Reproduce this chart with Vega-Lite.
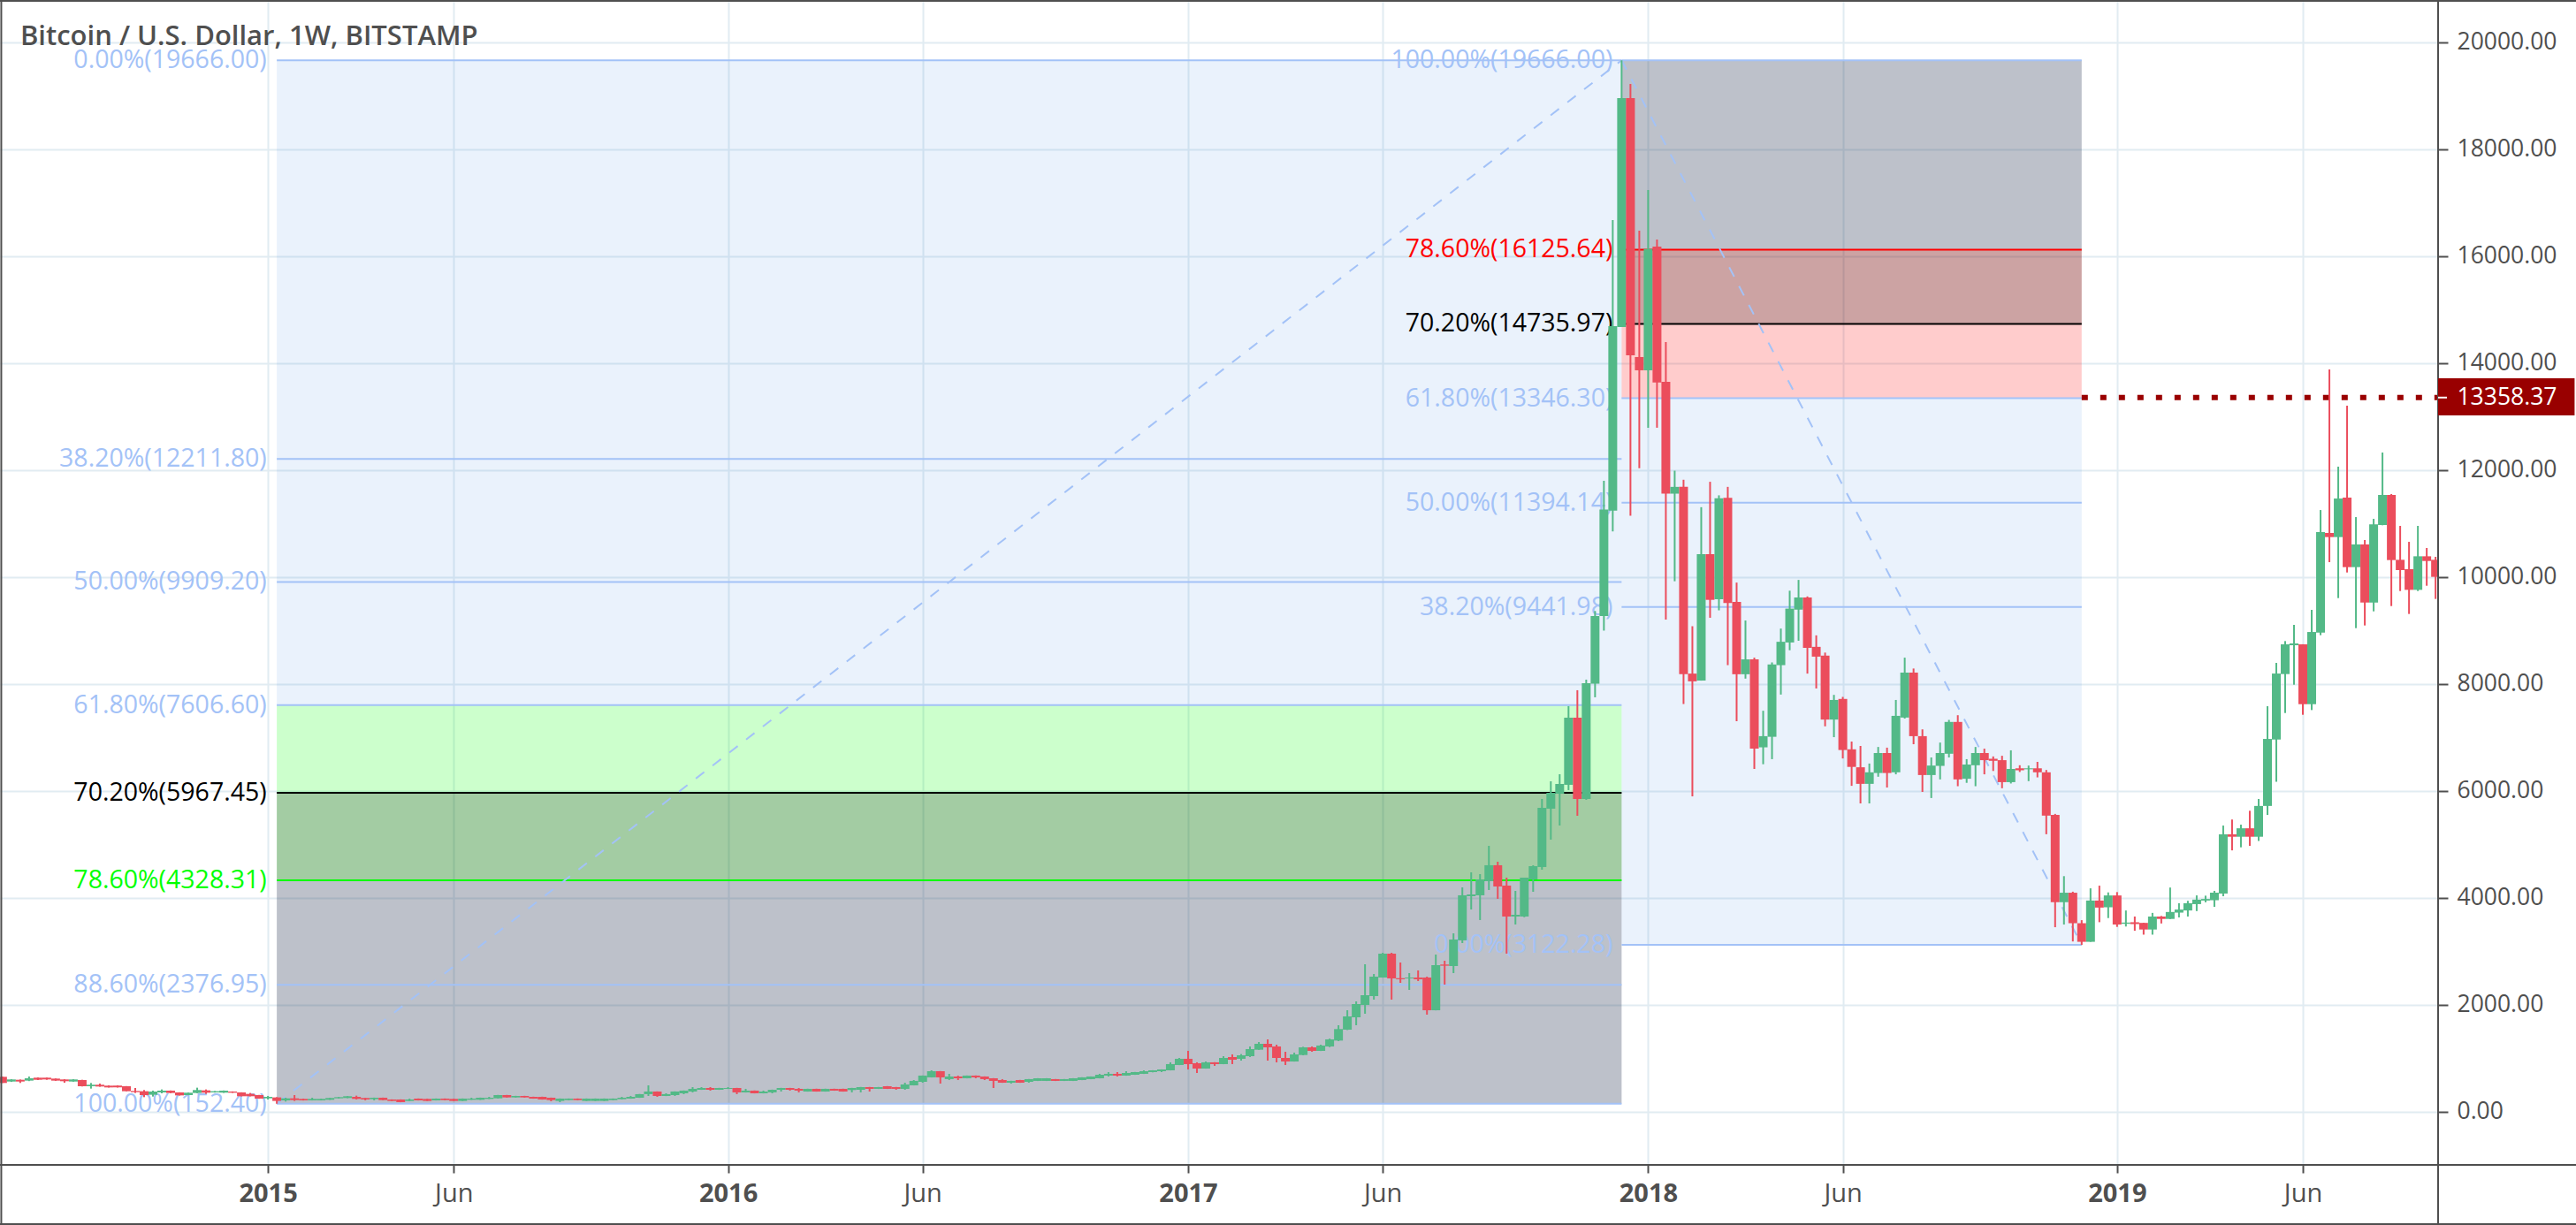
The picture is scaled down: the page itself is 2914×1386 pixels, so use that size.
{"$schema":"https://vega.github.io/schema/vega-lite/v6.json","width":2758,"height":1318,"autosize":{"type":"none"},"padding":{"left":0,"top":0,"right":156,"bottom":68},"background":"#ffffff","config":{"scale":{"continuousPadding":0},"view":{"stroke":null},"axis":{"labelFont":"Open Sans","labelColor":"#4f4f4f","tickColor":"#4f4f4f","tickWidth":2,"gridColor":"#e1ecf2","gridWidth":2,"domain":false,"title":null,"labelOverlap":false,"labelBound":false,"labelFlush":false},"text":{"font":"Open Sans"}},"resolve":{"axis":{"x":"independent","y":"independent"}},"datasets":{"candles":[{"d":"2014-06-09","o":655,"h":660,"l":540,"c":540},{"d":"2014-06-16","o":567,"h":610,"l":560,"c":606},{"d":"2014-06-23","o":600,"h":605,"l":540,"c":567},{"d":"2014-06-30","o":584,"h":661,"l":575,"c":628},{"d":"2014-07-07","o":639,"h":645,"l":595,"c":600},{"d":"2014-07-14","o":639,"h":642,"l":600,"c":606},{"d":"2014-07-21","o":622,"h":625,"l":580,"c":584},{"d":"2014-07-28","o":606,"h":610,"l":545,"c":573},{"d":"2014-08-04","o":567,"h":610,"l":565,"c":606},{"d":"2014-08-11","o":595,"h":600,"l":475,"c":479},{"d":"2014-08-18","o":479,"h":540,"l":435,"c":507},{"d":"2014-08-25","o":507,"h":529,"l":470,"c":474},{"d":"2014-09-01","o":490,"h":495,"l":455,"c":457},{"d":"2014-09-08","o":490,"h":495,"l":455,"c":457},{"d":"2014-09-15","o":479,"h":482,"l":386,"c":386},{"d":"2014-09-22","o":391,"h":446,"l":353,"c":369},{"d":"2014-09-29","o":386,"h":408,"l":275,"c":314},{"d":"2014-10-06","o":320,"h":397,"l":286,"c":380},{"d":"2014-10-13","o":363,"h":419,"l":347,"c":397},{"d":"2014-10-20","o":397,"h":400,"l":350,"c":353},{"d":"2014-10-27","o":363,"h":366,"l":305,"c":308},{"d":"2014-11-03","o":314,"h":360,"l":312,"c":358},{"d":"2014-11-10","o":353,"h":452,"l":350,"c":408},{"d":"2014-11-17","o":402,"h":419,"l":336,"c":358},{"d":"2014-11-24","o":363,"h":390,"l":360,"c":386},{"d":"2014-12-01","o":358,"h":400,"l":355,"c":397},{"d":"2014-12-08","o":380,"h":383,"l":355,"c":358},{"d":"2014-12-15","o":363,"h":366,"l":290,"c":292},{"d":"2014-12-22","o":336,"h":353,"l":290,"c":292},{"d":"2014-12-29","o":314,"h":317,"l":245,"c":248},{"d":"2015-01-05","o":253,"h":298,"l":231,"c":281},{"d":"2015-01-12","o":270,"h":275,"l":152,"c":204},{"d":"2015-01-19","o":215,"h":264,"l":193,"c":253},{"d":"2015-01-26","o":253,"h":314,"l":204,"c":220},{"d":"2015-02-02","o":242,"h":245,"l":212,"c":215},{"d":"2015-02-09","o":215,"h":264,"l":213,"c":242},{"d":"2015-02-16","o":215,"h":245,"l":213,"c":242},{"d":"2015-02-23","o":226,"h":262,"l":224,"c":259},{"d":"2015-03-02","o":253,"h":278,"l":250,"c":275},{"d":"2015-03-09","o":259,"h":295,"l":256,"c":292},{"d":"2015-03-16","o":281,"h":303,"l":231,"c":242},{"d":"2015-03-23","o":259,"h":262,"l":215,"c":231},{"d":"2015-03-30","o":237,"h":267,"l":215,"c":264},{"d":"2015-04-06","o":264,"h":267,"l":218,"c":220},{"d":"2015-04-13","o":231,"h":234,"l":202,"c":204},{"d":"2015-04-20","o":231,"h":234,"l":180,"c":182},{"d":"2015-04-27","o":204,"h":248,"l":202,"c":231},{"d":"2015-05-04","o":248,"h":251,"l":213,"c":215},{"d":"2015-05-11","o":242,"h":245,"l":202,"c":204},{"d":"2015-05-18","o":215,"h":251,"l":213,"c":248},{"d":"2015-05-25","o":248,"h":251,"l":218,"c":220},{"d":"2015-06-01","o":242,"h":245,"l":202,"c":204},{"d":"2015-06-08","o":204,"h":251,"l":202,"c":248},{"d":"2015-06-15","o":226,"h":264,"l":224,"c":248},{"d":"2015-06-22","o":226,"h":267,"l":224,"c":264},{"d":"2015-06-29","o":242,"h":281,"l":240,"c":264},{"d":"2015-07-06","o":253,"h":317,"l":251,"c":314},{"d":"2015-07-13","o":314,"h":317,"l":268,"c":270},{"d":"2015-07-20","o":270,"h":300,"l":268,"c":297},{"d":"2015-07-27","o":297,"h":300,"l":268,"c":270},{"d":"2015-08-03","o":281,"h":284,"l":246,"c":248},{"d":"2015-08-10","o":281,"h":284,"l":229,"c":231},{"d":"2015-08-17","o":264,"h":267,"l":198,"c":220},{"d":"2015-08-24","o":204,"h":251,"l":182,"c":248},{"d":"2015-08-31","o":220,"h":251,"l":218,"c":248},{"d":"2015-09-07","o":248,"h":251,"l":218,"c":220},{"d":"2015-09-14","o":204,"h":251,"l":202,"c":248},{"d":"2015-09-21","o":204,"h":251,"l":202,"c":248},{"d":"2015-09-28","o":204,"h":251,"l":202,"c":248},{"d":"2015-10-05","o":220,"h":251,"l":218,"c":248},{"d":"2015-10-12","o":237,"h":281,"l":235,"c":264},{"d":"2015-10-19","o":248,"h":298,"l":246,"c":281},{"d":"2015-10-26","o":264,"h":334,"l":262,"c":331},{"d":"2015-11-02","o":331,"h":496,"l":297,"c":380},{"d":"2015-11-09","o":380,"h":383,"l":281,"c":297},{"d":"2015-11-16","o":297,"h":347,"l":295,"c":331},{"d":"2015-11-23","o":314,"h":383,"l":298,"c":380},{"d":"2015-11-30","o":347,"h":400,"l":331,"c":397},{"d":"2015-12-07","o":380,"h":463,"l":364,"c":430},{"d":"2015-12-14","o":413,"h":463,"l":411,"c":446},{"d":"2015-12-21","o":446,"h":463,"l":397,"c":413},{"d":"2015-12-28","o":413,"h":449,"l":411,"c":446},{"d":"2016-01-04","o":430,"h":463,"l":428,"c":446},{"d":"2016-01-11","o":446,"h":449,"l":331,"c":364},{"d":"2016-01-18","o":364,"h":430,"l":362,"c":397},{"d":"2016-01-25","o":397,"h":400,"l":345,"c":347},{"d":"2016-02-01","o":347,"h":397,"l":345,"c":380},{"d":"2016-02-08","o":364,"h":416,"l":347,"c":413},{"d":"2016-02-15","o":413,"h":449,"l":380,"c":446},{"d":"2016-02-22","o":446,"h":449,"l":397,"c":413},{"d":"2016-02-29","o":430,"h":446,"l":364,"c":397},{"d":"2016-03-07","o":380,"h":433,"l":378,"c":430},{"d":"2016-03-14","o":430,"h":433,"l":378,"c":380},{"d":"2016-03-21","o":380,"h":433,"l":378,"c":430},{"d":"2016-03-28","o":430,"h":433,"l":395,"c":397},{"d":"2016-04-04","o":430,"h":433,"l":378,"c":380},{"d":"2016-04-11","o":408,"h":449,"l":364,"c":446},{"d":"2016-04-18","o":413,"h":466,"l":364,"c":463},{"d":"2016-04-25","o":463,"h":466,"l":380,"c":430},{"d":"2016-05-02","o":430,"h":466,"l":428,"c":463},{"d":"2016-05-09","o":479,"h":482,"l":428,"c":430},{"d":"2016-05-16","o":463,"h":466,"l":413,"c":430},{"d":"2016-05-23","o":430,"h":545,"l":413,"c":512},{"d":"2016-05-30","o":496,"h":595,"l":494,"c":579},{"d":"2016-06-06","o":562,"h":680,"l":545,"c":678},{"d":"2016-06-13","o":645,"h":777,"l":643,"c":760},{"d":"2016-06-20","o":760,"h":763,"l":529,"c":645},{"d":"2016-06-27","o":612,"h":711,"l":595,"c":661},{"d":"2016-07-04","o":661,"h":678,"l":595,"c":628},{"d":"2016-07-11","o":628,"h":680,"l":626,"c":678},{"d":"2016-07-18","o":678,"h":681,"l":628,"c":645},{"d":"2016-07-25","o":661,"h":664,"l":595,"c":612},{"d":"2016-08-01","o":628,"h":631,"l":446,"c":579},{"d":"2016-08-08","o":595,"h":612,"l":543,"c":545},{"d":"2016-08-15","o":545,"h":581,"l":529,"c":579},{"d":"2016-08-22","o":595,"h":598,"l":543,"c":545},{"d":"2016-08-29","o":562,"h":614,"l":545,"c":612},{"d":"2016-09-05","o":579,"h":630,"l":577,"c":628},{"d":"2016-09-12","o":579,"h":630,"l":577,"c":628},{"d":"2016-09-19","o":612,"h":614,"l":577,"c":579},{"d":"2016-09-26","o":579,"h":614,"l":577,"c":612},{"d":"2016-10-03","o":579,"h":630,"l":577,"c":628},{"d":"2016-10-10","o":595,"h":647,"l":593,"c":645},{"d":"2016-10-17","o":612,"h":663,"l":610,"c":661},{"d":"2016-10-24","o":628,"h":711,"l":626,"c":694},{"d":"2016-10-31","o":678,"h":744,"l":661,"c":711},{"d":"2016-11-07","o":711,"h":744,"l":661,"c":678},{"d":"2016-11-14","o":678,"h":760,"l":676,"c":727},{"d":"2016-11-21","o":694,"h":746,"l":692,"c":744},{"d":"2016-11-28","o":711,"h":777,"l":709,"c":760},{"d":"2016-12-05","o":744,"h":779,"l":739,"c":777},{"d":"2016-12-12","o":760,"h":795,"l":744,"c":793},{"d":"2016-12-19","o":777,"h":926,"l":775,"c":893},{"d":"2016-12-26","o":876,"h":1008,"l":874,"c":992},{"d":"2017-01-02","o":992,"h":1141,"l":793,"c":893},{"d":"2017-01-09","o":909,"h":926,"l":727,"c":810},{"d":"2017-01-16","o":810,"h":942,"l":808,"c":926},{"d":"2017-01-23","o":926,"h":929,"l":860,"c":893},{"d":"2017-01-30","o":893,"h":1041,"l":891,"c":1008},{"d":"2017-02-06","o":1025,"h":1075,"l":893,"c":975},{"d":"2017-02-13","o":992,"h":1080,"l":958,"c":1058},{"d":"2017-02-20","o":1041,"h":1223,"l":1025,"c":1173},{"d":"2017-02-27","o":1162,"h":1306,"l":1160,"c":1272},{"d":"2017-03-06","o":1272,"h":1355,"l":958,"c":1206},{"d":"2017-03-13","o":1223,"h":1256,"l":925,"c":1008},{"d":"2017-03-20","o":1008,"h":1124,"l":876,"c":942},{"d":"2017-03-27","o":942,"h":1108,"l":940,"c":1074},{"d":"2017-04-03","o":1063,"h":1217,"l":1058,"c":1206},{"d":"2017-04-10","o":1206,"h":1223,"l":1124,"c":1140},{"d":"2017-04-17","o":1140,"h":1256,"l":1138,"c":1240},{"d":"2017-04-24","o":1223,"h":1370,"l":1210,"c":1355},{"d":"2017-05-01","o":1333,"h":1620,"l":1322,"c":1548},{"d":"2017-05-08","o":1537,"h":1901,"l":1530,"c":1785},{"d":"2017-05-15","o":1768,"h":2066,"l":1620,"c":2016},{"d":"2017-05-22","o":2000,"h":2760,"l":1835,"c":2182},{"d":"2017-05-29","o":2165,"h":2578,"l":2099,"c":2529},{"d":"2017-06-05","o":2512,"h":2975,"l":2510,"c":2958},{"d":"2017-06-12","o":2958,"h":2975,"l":2099,"c":2496},{"d":"2017-06-19","o":2500,"h":2793,"l":2413,"c":2480},{"d":"2017-06-26","o":2496,"h":2595,"l":2281,"c":2512},{"d":"2017-07-03","o":2512,"h":2645,"l":2446,"c":2480},{"d":"2017-07-10","o":2512,"h":2529,"l":1818,"c":1900},{"d":"2017-07-17","o":1900,"h":2942,"l":1898,"c":2744},{"d":"2017-07-24","o":2755,"h":2826,"l":2380,"c":2733},{"d":"2017-07-31","o":2727,"h":3339,"l":2595,"c":3223},{"d":"2017-08-07","o":3207,"h":4198,"l":3157,"c":4050},{"d":"2017-08-14","o":4033,"h":4479,"l":3785,"c":4066},{"d":"2017-08-21","o":4050,"h":4446,"l":3587,"c":4347},{"d":"2017-08-28","o":4314,"h":4975,"l":4149,"c":4612},{"d":"2017-09-04","o":4612,"h":4678,"l":3984,"c":4215},{"d":"2017-09-11","o":4231,"h":4380,"l":2959,"c":3653},{"d":"2017-09-18","o":3653,"h":4132,"l":3504,"c":3686},{"d":"2017-09-25","o":3653,"h":4380,"l":3640,"c":4380},{"d":"2017-10-02","o":4347,"h":4612,"l":4116,"c":4595},{"d":"2017-10-09","o":4579,"h":5851,"l":4529,"c":5686},{"d":"2017-10-16","o":5670,"h":6182,"l":5091,"c":5967},{"d":"2017-10-23","o":5950,"h":6314,"l":5355,"c":6132},{"d":"2017-10-30","o":6116,"h":7587,"l":6017,"c":7372},{"d":"2017-11-06","o":7372,"h":7885,"l":5537,"c":5851},{"d":"2017-11-13","o":5851,"h":8083,"l":5835,"c":8017},{"d":"2017-11-20","o":8007,"h":9367,"l":7753,"c":9272},{"d":"2017-11-27","o":9272,"h":11802,"l":9000,"c":11264},{"d":"2017-12-04","o":11245,"h":16678,"l":10853,"c":14694},{"d":"2017-12-11","o":14678,"h":19666,"l":14678,"c":18959},{"d":"2017-12-18","o":18959,"h":19223,"l":11150,"c":14149},{"d":"2017-12-25","o":14116,"h":16480,"l":12036,"c":13868},{"d":"2018-01-01","o":13868,"h":17240,"l":12794,"c":16137},{"d":"2018-01-08","o":16182,"h":16314,"l":12794,"c":13640},{"d":"2018-01-15","o":13653,"h":14397,"l":9208,"c":11561},{"d":"2018-01-22","o":11561,"h":11991,"l":9923,"c":11688},{"d":"2018-01-29","o":11688,"h":11821,"l":7627,"c":8184},{"d":"2018-02-05","o":8196,"h":9082,"l":5900,"c":8051},{"d":"2018-02-12","o":8064,"h":11308,"l":8064,"c":10429},{"d":"2018-02-19","o":10429,"h":11783,"l":9240,"c":9575},{"d":"2018-02-26","o":9588,"h":11530,"l":9379,"c":11473},{"d":"2018-03-05","o":11485,"h":11688,"l":8354,"c":9518},{"d":"2018-03-12","o":9537,"h":9898,"l":7305,"c":8184},{"d":"2018-03-19","o":8184,"h":9189,"l":8102,"c":8462},{"d":"2018-03-26","o":8462,"h":8494,"l":6413,"c":6792},{"d":"2018-04-02","o":6817,"h":7501,"l":6501,"c":7026},{"d":"2018-04-09","o":7014,"h":8405,"l":6596,"c":8367},{"d":"2018-04-16","o":8354,"h":9038,"l":7804,"c":8791},{"d":"2018-04-23","o":8778,"h":9746,"l":8633,"c":9411},{"d":"2018-04-30","o":9392,"h":9948,"l":8810,"c":9620},{"d":"2018-05-07","o":9620,"h":9639,"l":8196,"c":8677},{"d":"2018-05-14","o":8696,"h":8911,"l":7918,"c":8513},{"d":"2018-05-21","o":8532,"h":8589,"l":7210,"c":7336},{"d":"2018-05-28","o":7336,"h":7798,"l":7007,"c":7703},{"d":"2018-06-04","o":7722,"h":7760,"l":6609,"c":6767},{"d":"2018-06-11","o":6780,"h":6925,"l":6097,"c":6451},{"d":"2018-06-18","o":6444,"h":6843,"l":5768,"c":6134},{"d":"2018-06-25","o":6134,"h":6514,"l":5768,"c":6350},{"d":"2018-07-02","o":6337,"h":6824,"l":6267,"c":6710},{"d":"2018-07-09","o":6710,"h":6811,"l":6065,"c":6337},{"d":"2018-07-16","o":6350,"h":7703,"l":6312,"c":7406},{"d":"2018-07-23","o":7374,"h":8494,"l":7355,"c":8215},{"d":"2018-07-30","o":8215,"h":8291,"l":6875,"c":7026},{"d":"2018-08-06","o":7026,"h":7153,"l":5983,"c":6299},{"d":"2018-08-13","o":6299,"h":6628,"l":5869,"c":6476},{"d":"2018-08-20","o":6470,"h":6906,"l":6217,"c":6710},{"d":"2018-08-27","o":6697,"h":7330,"l":6628,"c":7292},{"d":"2018-09-03","o":7292,"h":7418,"l":6090,"c":6217},{"d":"2018-09-10","o":6229,"h":6596,"l":6153,"c":6495},{"d":"2018-09-17","o":6482,"h":6824,"l":6090,"c":6710},{"d":"2018-09-24","o":6710,"h":6792,"l":6312,"c":6577},{"d":"2018-10-01","o":6603,"h":6647,"l":6375,"c":6565},{"d":"2018-10-08","o":6577,"h":6659,"l":6052,"c":6166},{"d":"2018-10-15","o":6166,"h":6761,"l":6141,"c":6413},{"d":"2018-10-22","o":6425,"h":6482,"l":6356,"c":6388},{"d":"2018-10-29","o":6407,"h":6476,"l":6185,"c":6425},{"d":"2018-11-05","o":6425,"h":6545,"l":6255,"c":6350},{"d":"2018-11-12","o":6350,"h":6394,"l":5192,"c":5540},{"d":"2018-11-19","o":5553,"h":5572,"l":3453,"c":3921},{"d":"2018-11-26","o":3921,"h":4408,"l":3503,"c":4098},{"d":"2018-12-03","o":4098,"h":4117,"l":3187,"c":3528},{"d":"2018-12-10","o":3528,"h":3585,"l":3122,"c":3180},{"d":"2018-12-17","o":3180,"h":4180,"l":3180,"c":3952},{"d":"2018-12-24","o":3952,"h":4230,"l":3547,"c":3820},{"d":"2018-12-31","o":3826,"h":4104,"l":3624,"c":4047},{"d":"2019-01-07","o":4047,"h":4110,"l":3459,"c":3503},{"d":"2019-01-14","o":3517,"h":3766,"l":3466,"c":3540},{"d":"2019-01-21","o":3546,"h":3653,"l":3387,"c":3512},{"d":"2019-01-28","o":3534,"h":3536,"l":3314,"c":3410},{"d":"2019-02-04","o":3410,"h":3721,"l":3314,"c":3653},{"d":"2019-02-11","o":3653,"h":3664,"l":3523,"c":3608},{"d":"2019-02-18","o":3608,"h":4195,"l":3606,"c":3738},{"d":"2019-02-25","o":3726,"h":3902,"l":3636,"c":3783},{"d":"2019-03-04","o":3766,"h":3947,"l":3653,"c":3902},{"d":"2019-03-11","o":3885,"h":4048,"l":3755,"c":3969},{"d":"2019-03-18","o":3952,"h":4043,"l":3919,"c":3981},{"d":"2019-03-25","o":3958,"h":4133,"l":3834,"c":4099},{"d":"2019-04-01","o":4082,"h":5354,"l":4032,"c":5190},{"d":"2019-04-08","o":5190,"h":5467,"l":4890,"c":5145},{"d":"2019-04-15","o":5145,"h":5371,"l":4947,"c":5303},{"d":"2019-04-22","o":5303,"h":5631,"l":4975,"c":5145},{"d":"2019-04-29","o":5145,"h":5851,"l":5066,"c":5721},{"d":"2019-05-06","o":5721,"h":7586,"l":5552,"c":6974},{"d":"2019-05-13","o":6963,"h":8396,"l":6173,"c":8197},{"d":"2019-05-20","o":8187,"h":8804,"l":7459,"c":8743},{"d":"2019-05-27","o":8726,"h":9107,"l":7988,"c":8760},{"d":"2019-06-03","o":8743,"h":8745,"l":7426,"c":7624},{"d":"2019-06-10","o":7624,"h":9388,"l":7514,"c":8974},{"d":"2019-06-17","o":8963,"h":11255,"l":8914,"c":10842},{"d":"2019-06-24","o":10826,"h":13884,"l":10280,"c":10749},{"d":"2019-07-01","o":10749,"h":12066,"l":9608,"c":11470},{"d":"2019-07-08","o":11487,"h":13206,"l":10087,"c":10187},{"d":"2019-07-15","o":10187,"h":11123,"l":9046,"c":10611},{"d":"2019-07-22","o":10611,"h":10694,"l":9096,"c":9525},{"d":"2019-07-29","o":9525,"h":11090,"l":9360,"c":10986},{"d":"2019-08-05","o":10975,"h":12330,"l":10970,"c":11537},{"d":"2019-08-12","o":11537,"h":11553,"l":9459,"c":10319},{"d":"2019-08-19","o":10324,"h":10958,"l":9740,"c":10132},{"d":"2019-08-26","o":10148,"h":10660,"l":9311,"c":9762},{"d":"2019-09-02","o":9762,"h":10958,"l":9740,"c":10390},{"d":"2019-09-09","o":10390,"h":10545,"l":9839,"c":10302},{"d":"2019-09-16","o":10324,"h":10380,"l":9592,"c":10005}],"zones":[{"d":"2015-01-12","d2":"2017-12-11","v":19666,"v2":7606.6,"zone":"base"},{"d":"2015-01-12","d2":"2017-12-11","v":7606.6,"v2":4328.31,"zone":"green"},{"d":"2015-01-12","d2":"2017-12-11","v":5967.45,"v2":4328.31,"zone":"shade"},{"d":"2015-01-12","d2":"2017-12-11","v":4328.31,"v2":152.4,"zone":"gray"},{"d":"2017-12-11","d2":"2018-12-10","v":19666,"v2":16125.64,"zone":"gray"},{"d":"2017-12-11","d2":"2018-12-10","v":16125.64,"v2":13346.3,"zone":"red"},{"d":"2017-12-11","d2":"2018-12-10","v":16125.64,"v2":14735.97,"zone":"shade"},{"d":"2017-12-11","d2":"2018-12-10","v":13346.3,"v2":3122.28,"zone":"base"}],"levels":[{"d":"2015-01-12","d2":"2017-12-11","v":19666,"tone":"fib"},{"d":"2015-01-12","d2":"2017-12-11","v":12211.8,"tone":"fib"},{"d":"2015-01-12","d2":"2017-12-11","v":9909.2,"tone":"fib"},{"d":"2015-01-12","d2":"2017-12-11","v":7606.6,"tone":"fib"},{"d":"2015-01-12","d2":"2017-12-11","v":5967.45,"tone":"black"},{"d":"2015-01-12","d2":"2017-12-11","v":4328.31,"tone":"lime"},{"d":"2015-01-12","d2":"2017-12-11","v":2376.95,"tone":"fib"},{"d":"2015-01-12","d2":"2017-12-11","v":152.4,"tone":"fib"},{"d":"2017-12-11","d2":"2018-12-10","v":19666,"tone":"fib"},{"d":"2017-12-11","d2":"2018-12-10","v":16125.64,"tone":"red"},{"d":"2017-12-11","d2":"2018-12-10","v":14735.97,"tone":"black"},{"d":"2017-12-11","d2":"2018-12-10","v":13346.3,"tone":"fib"},{"d":"2017-12-11","d2":"2018-12-10","v":11394.14,"tone":"fib"},{"d":"2017-12-11","d2":"2018-12-10","v":9441.98,"tone":"fib"},{"d":"2017-12-11","d2":"2018-12-10","v":3122.28,"tone":"fib"}],"trends":[{"d":"2015-01-12","d2":"2017-12-11","v":152.4,"v2":19666},{"d":"2017-12-11","d2":"2018-12-10","v":19666,"v2":3122.28}],"labels":[{"d":"2015-01-04","v":19666,"label":"0.00%(19666.00)","tone":"fib"},{"d":"2015-01-04","v":12211.8,"label":"38.20%(12211.80)","tone":"fib"},{"d":"2015-01-04","v":9909.2,"label":"50.00%(9909.20)","tone":"fib"},{"d":"2015-01-04","v":7606.6,"label":"61.80%(7606.60)","tone":"fib"},{"d":"2015-01-04","v":5967.45,"label":"70.20%(5967.45)","tone":"black"},{"d":"2015-01-04","v":4328.31,"label":"78.60%(4328.31)","tone":"lime"},{"d":"2015-01-04","v":2376.95,"label":"88.60%(2376.95)","tone":"fib"},{"d":"2015-01-04","v":152.4,"label":"100.00%(152.40)","tone":"fib"},{"d":"2017-12-04","v":19666,"label":"100.00%(19666.00)","tone":"fib"},{"d":"2017-12-04","v":16125.64,"label":"78.60%(16125.64)","tone":"red"},{"d":"2017-12-04","v":14735.97,"label":"70.20%(14735.97)","tone":"black"},{"d":"2017-12-04","v":13346.3,"label":"61.80%(13346.30)","tone":"fib"},{"d":"2017-12-04","v":11394.14,"label":"50.00%(11394.14)","tone":"fib"},{"d":"2017-12-04","v":9441.98,"label":"38.20%(9441.98)","tone":"fib"},{"d":"2017-12-04","v":3122.28,"label":"0.00%(3122.28)","tone":"fib"}],"frame":[{"d":"2014-06-07","d2":"2020-01-06","v":20777,"v2":20777},{"d":"2014-06-07","d2":"2020-01-06","v":-992,"v2":-992},{"d":"2014-06-07","d2":"2020-01-06","v":-2099,"v2":-2099},{"d":"2014-06-08","d2":"2014-06-08","v":20793,"v2":-2115},{"d":"2019-09-18","d2":"2019-09-18","v":20793,"v2":-2115}]},"layer":[{"data":{"name":"zones"},"mark":{"type":"rect"},"encoding":{"x":{"field":"d","type":"temporal","scale":{"type":"utc","nice":false,"domain":[{"year":2014,"month":6,"date":7,"utc":true},{"year":2019,"month":9,"date":18,"utc":true}]},"axis":{"values":[{"year":2015,"month":1,"date":5,"utc":true},{"year":2015,"month":6,"date":1,"utc":true},{"year":2016,"month":1,"date":4,"utc":true},{"year":2016,"month":6,"date":6,"utc":true},{"year":2017,"month":1,"date":2,"utc":true},{"year":2017,"month":6,"date":5,"utc":true},{"year":2018,"month":1,"date":1,"utc":true},{"year":2018,"month":6,"date":4,"utc":true},{"year":2019,"month":1,"date":7,"utc":true},{"year":2019,"month":6,"date":3,"utc":true}],"grid":true,"tickSize":9,"labelFontSize":29,"labelPadding":9,"labelAlign":"center","labelExpr":"utcFormat(datum.value, utcmonth(datum.value) == 0 ? '%Y' : '%b')","labelFontWeight":{"condition":{"test":"utcmonth(datum.value) == 0","value":"bold"},"value":"normal"}}},"x2":{"field":"d2"},"y":{"field":"v","type":"quantitative","scale":{"domain":[-992,20793],"nice":false,"zero":false},"axis":{"orient":"right","values":[0,2000,4000,6000,8000,10000,12000,14000,16000,18000,20000],"format":".2f","grid":true,"tickSize":11,"labelFontSize":26.5,"labelPadding":10}},"y2":{"field":"v2"},"fill":{"field":"zone","type":"nominal","legend":null,"scale":{"domain":["base","green","shade","gray","red"],"range":["#2e7de0","#00ff00","#000000","#253250","#ff0000"]}},"opacity":{"field":"zone","type":"nominal","legend":null,"scale":{"type":"ordinal","domain":["base","green","shade","gray","red"],"range":[0.1,0.2,0.2,0.3,0.2]}}}},{"data":{"name":"levels"},"mark":{"type":"rule","strokeWidth":2},"encoding":{"x":{"field":"d","type":"temporal","axis":null,"scale":{"type":"utc"}},"x2":{"field":"d2"},"y":{"field":"v","type":"quantitative","axis":null},"stroke":{"field":"tone","type":"nominal","legend":null,"scale":{"domain":["fib","black","red","lime"],"range":["#a3c2f7","#000000","#ff0000","#00ff00"]}}}},{"data":{"name":"trends"},"mark":{"type":"rule","strokeWidth":2,"strokeDash":[12,12],"stroke":"#a3c2f7"},"encoding":{"x":{"field":"d","type":"temporal","axis":null,"scale":{"type":"utc"}},"x2":{"field":"d2"},"y":{"field":"v","type":"quantitative","axis":null},"y2":{"field":"v2"}}},{"data":{"name":"labels"},"mark":{"type":"text","align":"right","baseline":"middle","fontSize":28.5},"encoding":{"x":{"field":"d","type":"temporal","axis":null,"scale":{"type":"utc"}},"y":{"field":"v","type":"quantitative","axis":null},"text":{"field":"label"},"color":{"field":"tone","type":"nominal","legend":null,"scale":{"domain":["fib","black","red","lime"],"range":["#a3c2f7","#000000","#ff0000","#00ff00"]}}}},{"data":{"values":[{"d":"2018-12-10","d2":"2019-09-18","v":13358.37}]},"mark":{"type":"rule","strokeWidth":6,"strokeDash":[7,14],"stroke":"#990000"},"encoding":{"x":{"field":"d","type":"temporal","axis":null,"scale":{"type":"utc"}},"x2":{"field":"d2"},"y":{"field":"v","type":"quantitative","axis":null}}},{"data":{"name":"candles"},"mark":{"type":"rule","strokeWidth":2,"clip":true},"encoding":{"x":{"field":"d","type":"temporal","axis":null,"scale":{"type":"utc"}},"y":{"field":"h","type":"quantitative","axis":null},"y2":{"field":"l"},"color":{"condition":{"test":"datum.c >= datum.o","value":"#53b987"},"value":"#eb4d5c"}}},{"data":{"name":"candles"},"mark":{"type":"bar","size":10,"clip":true},"encoding":{"x":{"field":"d","type":"temporal","axis":null,"scale":{"type":"utc"}},"y":{"field":"o","type":"quantitative","axis":null},"y2":{"field":"c"},"color":{"condition":{"test":"datum.c >= datum.o","value":"#53b987"},"value":"#eb4d5c"}}},{"data":{"name":"frame"},"mark":{"type":"rule","strokeWidth":2,"stroke":"#4f4f4f"},"encoding":{"x":{"field":"d","type":"temporal","axis":null,"scale":{"type":"utc"}},"x2":{"field":"d2"},"y":{"field":"v","type":"quantitative","axis":null},"y2":{"field":"v2"}}},{"data":{"values":[{"d":"2019-09-18","d2":"2020-01-04","v":13719,"v2":13025}]},"mark":{"type":"rect","fill":"#990000"},"encoding":{"x":{"field":"d","type":"temporal","axis":null,"scale":{"type":"utc"}},"x2":{"field":"d2"},"y":{"field":"v","type":"quantitative","axis":null},"y2":{"field":"v2"}}},{"data":{"values":[{"d":"2019-09-18","d2":"2019-09-25","v":13358.37}]},"mark":{"type":"rule","strokeWidth":2,"stroke":"#ffffff"},"encoding":{"x":{"field":"d","type":"temporal","axis":null,"scale":{"type":"utc"}},"x2":{"field":"d2"},"y":{"field":"v","type":"quantitative","axis":null}}},{"data":{"values":[{"d":"2019-10-03","v":13358.37}]},"mark":{"type":"text","align":"left","baseline":"middle","fontSize":26.5,"fill":"#ffffff"},"encoding":{"x":{"field":"d","type":"temporal","axis":null,"scale":{"type":"utc"}},"y":{"field":"v","type":"quantitative","axis":null},"text":{"field":"v","type":"quantitative","format":".2f"}}},{"data":{"values":[{"d":"2014-06-23","v":20099,"label":"Bitcoin / U.S. Dollar, 1W, BITSTAMP"}]},"mark":{"type":"text","align":"left","baseline":"middle","fontSize":31,"fontWeight":600,"fill":"#4f4f4f"},"encoding":{"x":{"field":"d","type":"temporal","axis":null,"scale":{"type":"utc"}},"y":{"field":"v","type":"quantitative","axis":null},"text":{"field":"label"}}}]}
